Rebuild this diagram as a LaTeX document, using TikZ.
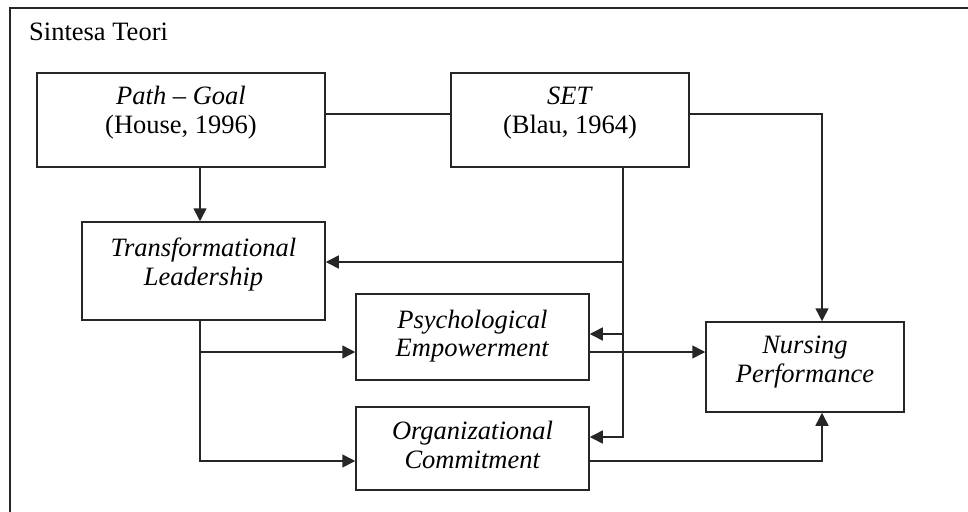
\documentclass[tikz,border=0pt]{standalone}
\usepackage{fontspec}
\setmainfont{Liberation Serif}
\usetikzlibrary{arrows.meta}
\newcommand\boxtext[2]{\raisebox{0pt}[\height][\dimexpr\depth+#1\relax]{\begin{tabular}{@{}c@{}}#2\end{tabular}}}
\begin{document}
\begin{tikzpicture}[x=1pt,y=-1pt,
  ln/.style={line width=1.5pt, draw=black!85},
  arr/.style={ln, -{Triangle[length=13pt,width=13pt]}},
  bx/.style={draw=black!85, line width=1.5pt, inner sep=0pt, align=center,
    font=\fontsize{26.5}{28.5}\selectfont}]
\useasboundingbox (0,0) rectangle (968,511);
\clip (0,0) rectangle (968,511);
% frame
\draw[ln] (10,540) -- (10,8) -- (990,8);
\node[anchor=base west, inner sep=0pt, font=\fontsize{26.5}{28.5}\selectfont] (title) at (29,40.5) {Sintesa Teori};
% boxes
\node[bx, minimum width=288pt, minimum height=94pt] (pg) at (181,120) {\boxtext{13.5pt}{\textit{Path – Goal}\\(House, 1996)}};
\node[bx, minimum width=238pt, minimum height=94pt] (set) at (570,120) {\boxtext{13.5pt}{\textit{SET}\\(Blau, 1964)}};
\node[bx, minimum width=243pt, minimum height=98pt] (tl) at (203.5,271) {\boxtext{11.5pt}{\textit{Transformational}\\\textit{Leadership}}};
\node[bx, minimum width=233pt, minimum height=86pt] (ps) at (472.5,337) {\boxtext{0pt}{\textit{Psychological}\\\textit{Empowerment}}};
\node[bx, minimum width=233pt, minimum height=83pt] (oc) at (472.5,448.5) {\boxtext{0pt}{\textit{Organizational}\\\textit{Commitment}}};
\node[bx, minimum width=198pt, minimum height=90pt] (np) at (805,367) {\boxtext{9.5pt}{\textit{Nursing}\\\textit{Performance}}};
% junction coordinates
\coordinate (s1) at (623,262);
\coordinate (s2) at (623,334);
\coordinate (s3) at (623,437);
\coordinate (b1) at (200,352);
\coordinate (b2) at (200,461);
\coordinate (k1) at (822,114);
\coordinate (k2) at (822,461);
% connectors
\draw[ln] (pg.east |- k1) -- (set.west |- k1);
\draw[arr] (set.east |- k1) -- (k1) -- (np.north -| k1);
\draw[arr] (pg.south -| b1) -- (tl.north -| b1);
\draw[arr] (set.south -| s1) -- (s3) -- (oc.east |- s3);
\draw[arr] (s1) -- (tl.east |- s1);
\draw[arr] (s2) -- (ps.east |- s2);
\draw[arr] (tl.south -| b1) -- (b2) -- (oc.west |- b2);
\draw[arr] (b1) -- (ps.west |- b1);
\draw[arr] (ps.east |- b1) -- (np.west |- b1);
\draw[arr] (oc.east |- b2) -- (k2) -- (np.south -| k2);
\end{tikzpicture}
\end{document}
